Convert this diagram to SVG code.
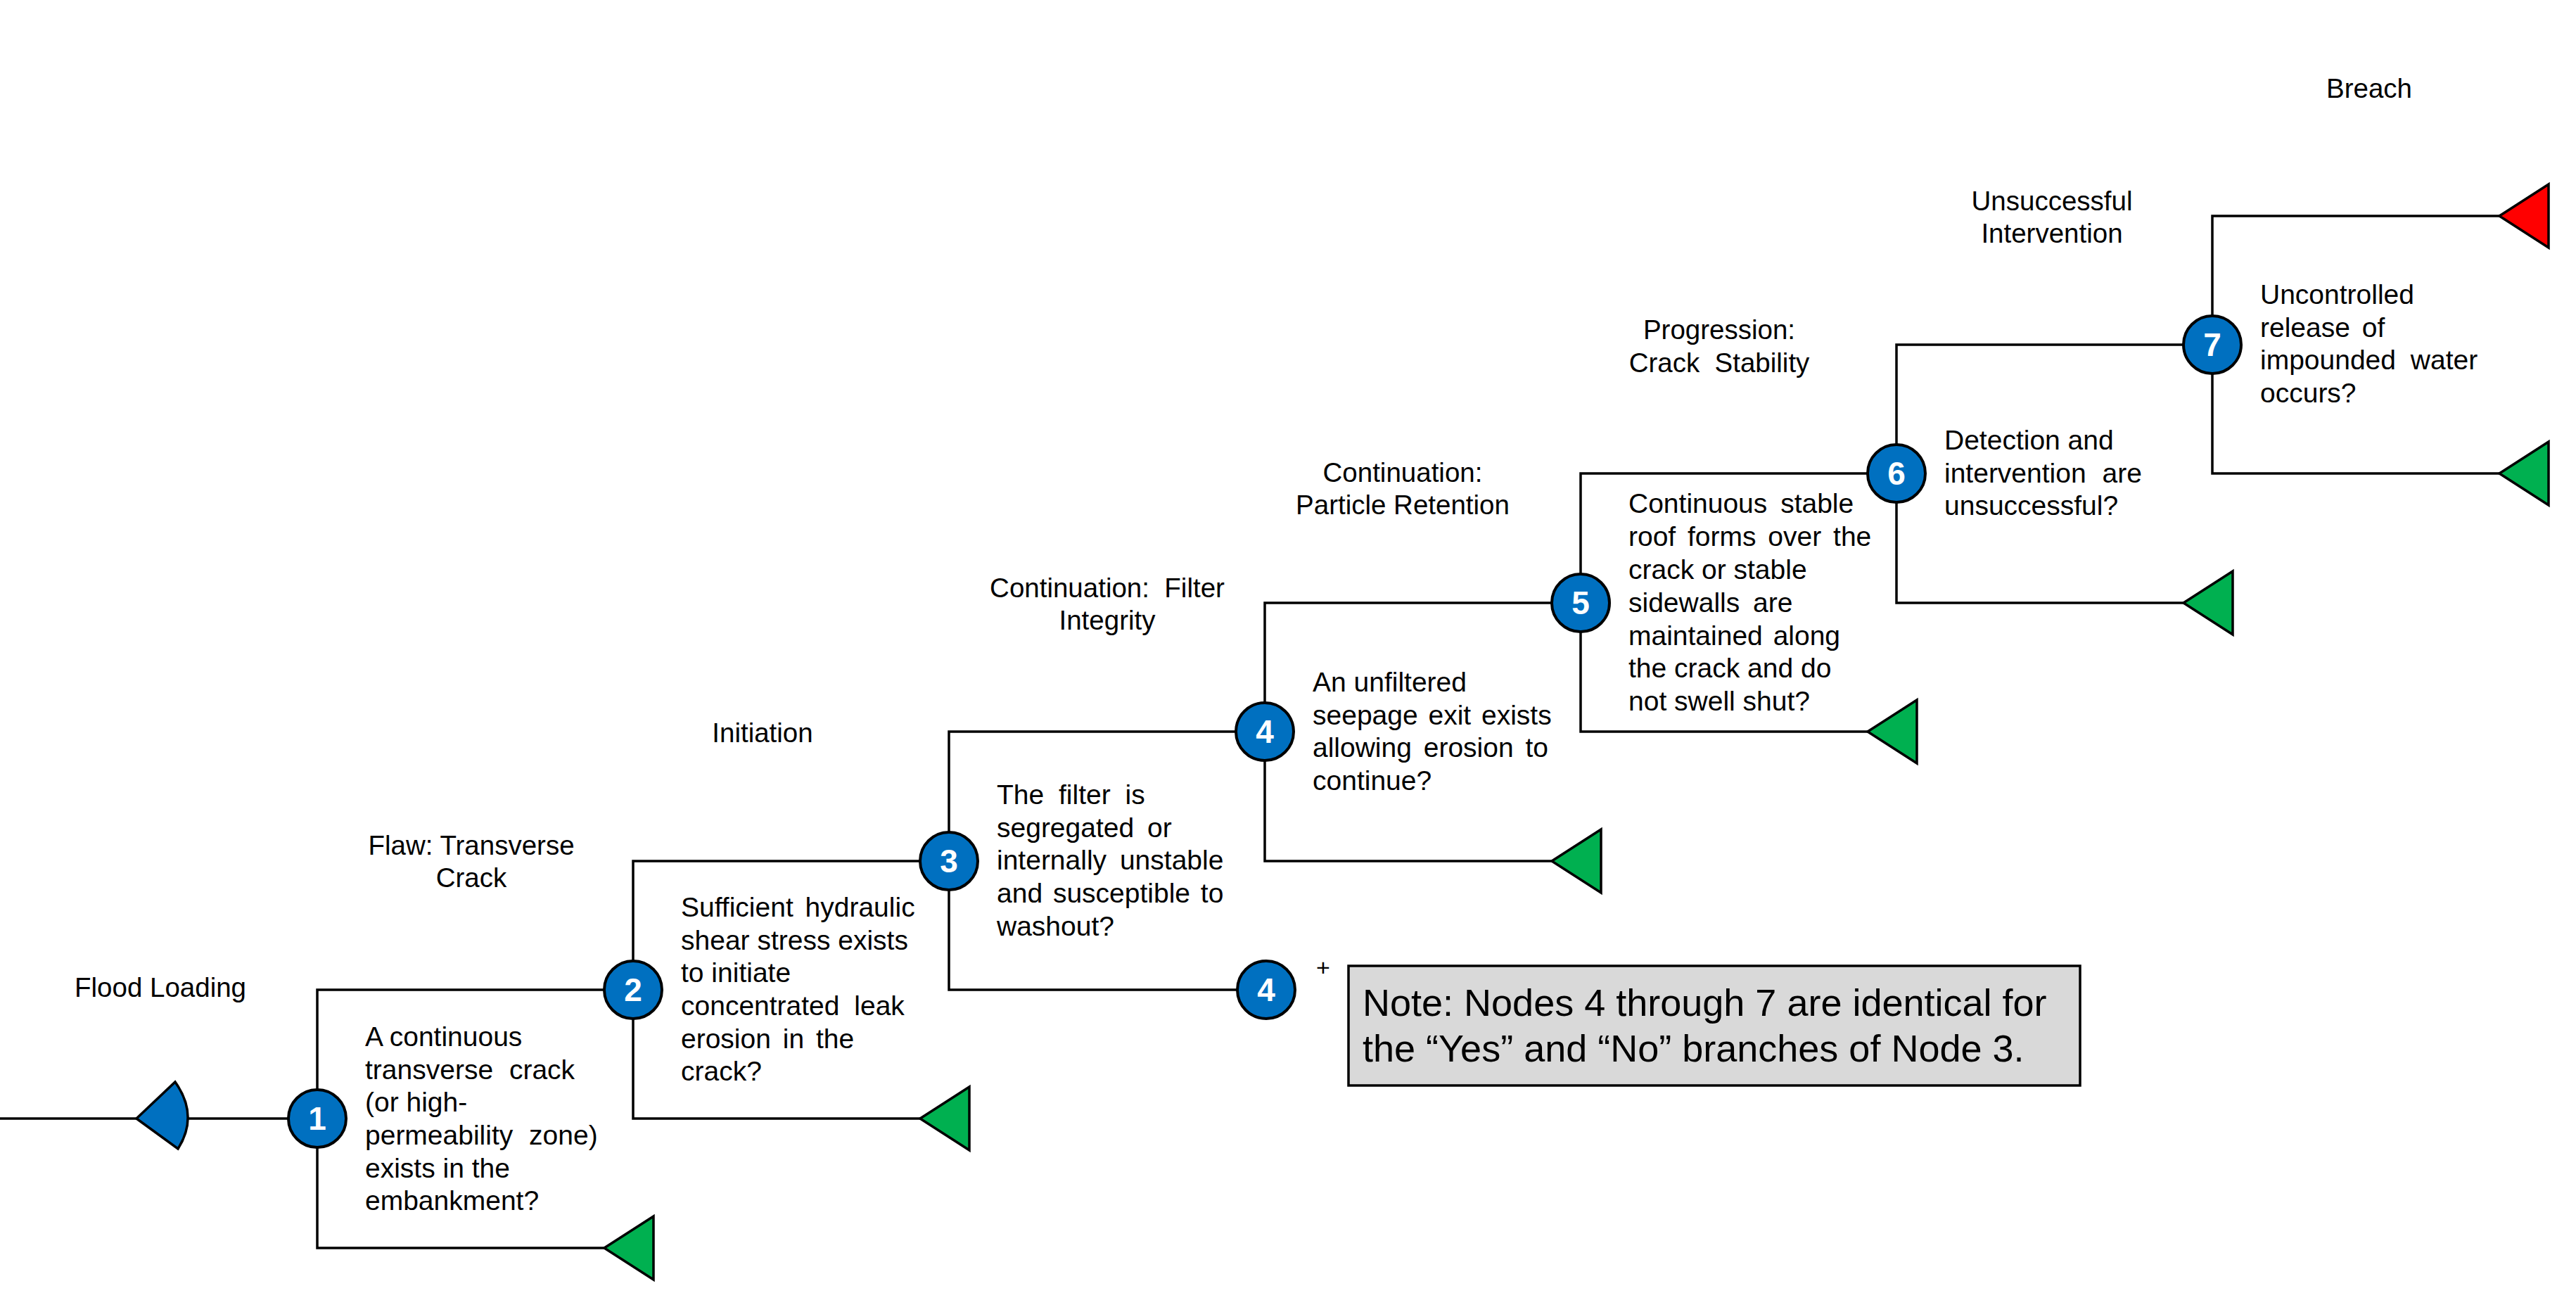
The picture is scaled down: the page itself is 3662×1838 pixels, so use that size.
<svg xmlns="http://www.w3.org/2000/svg" width="3662" height="1838" viewBox="0 0 3662 1838">
  <style>
    .ln { fill: none; stroke: #000; stroke-width: 3.5; }
    .nd { fill: #0070C0; stroke: #000; stroke-width: 4; }
    .num { font-family: "Liberation Sans", Arial, sans-serif; font-size: 46px; font-weight: bold; fill: #fff; text-anchor: middle; }
    .q { font-family: "Liberation Sans", Arial, sans-serif; font-size: 39px; fill: #000; }
    .hd { font-family: "Liberation Sans", Arial, sans-serif; font-size: 38.5px; fill: #000; text-anchor: middle; }
    .ok { fill: #00B050; stroke: #000; stroke-width: 3.5; }
    .bad { fill: #FF0000; stroke: #000; stroke-width: 3.5; }
    .start { fill: #0070C0; stroke: #000; stroke-width: 3.5; }
    .note { fill: #D9D9D9; stroke: #000; stroke-width: 3.5; }
    .notetxt { font-family: "Liberation Sans", Arial, sans-serif; font-size: 54px; fill: #000; }
  </style>
  <defs>
    <!-- terminal end-point triangle, tip at origin pointing left -->
    <path id="tri" d="M0,0 L70,-45 L70,45 Z"/>
  </defs>

  <rect width="3662" height="1838" fill="#fff"/>

  <!-- branch lines -->
  <g id="connectors">
    <!-- lead-in -->
    <path class="ln" d="M0,1590 H451"/>
    <!-- node 1 -->
    <path class="ln" d="M900,1407 H451 V1774 H859"/>
    <!-- node 2 -->
    <path class="ln" d="M1349,1224 H900 V1590 H1308"/>
    <!-- node 3 -->
    <path class="ln" d="M1798,1040 H1349 V1407 H1800"/>
    <!-- node 4 -->
    <path class="ln" d="M2247,857 H1798 V1224 H2206"/>
    <!-- node 5 -->
    <path class="ln" d="M2696,673 H2247 V1040 H2655"/>
    <!-- node 6 -->
    <path class="ln" d="M3145,490 H2696 V857 H3104"/>
    <!-- node 7 -->
    <path class="ln" d="M3553,307 H3145 V673 H3553"/>
  </g>

  <!-- initiating event marker -->
  <g id="start">
    <path class="start" d="M194,1590 L249,1538 Q283,1586 253,1633 Z"/>
  </g>

  <!-- end points -->
  <g id="end-n1"><use href="#tri" class="ok" x="859" y="1774"/></g>
  <g id="end-n2"><use href="#tri" class="ok" x="1308" y="1590"/></g>
  <g id="end-n4"><use href="#tri" class="ok" x="2206" y="1224"/></g>
  <g id="end-n5"><use href="#tri" class="ok" x="2655" y="1040"/></g>
  <g id="end-n6"><use href="#tri" class="ok" x="3104" y="857"/></g>
  <g id="end-n7-no"><use href="#tri" class="ok" x="3553" y="673"/></g>
  <g id="end-breach"><use href="#tri" class="bad" x="3553" y="307"/></g>

  <!-- event nodes -->
  <g id="node1">
    <circle class="nd" cx="451" cy="1590" r="41"/>
    <text class="num" x="451" y="1606">1</text>
    <text class="q" x="519" y="1487">A continuous</text>
    <text class="q" x="519" y="1534" word-spacing="12">transverse crack</text>
    <text class="q" x="519" y="1580">(or high-</text>
    <text class="q" x="519" y="1627" word-spacing="12">permeability zone)</text>
    <text class="q" x="519" y="1674">exists in the</text>
    <text class="q" x="519" y="1720">embankment?</text>
  </g>
  <g id="node2">
    <circle class="nd" cx="900" cy="1407" r="41"/>
    <text class="num" x="900" y="1423">2</text>
    <text class="q" x="968" y="1303" word-spacing="6">Sufficient hydraulic</text>
    <text class="q" x="968" y="1350">shear stress exists</text>
    <text class="q" x="968" y="1396">to initiate</text>
    <text class="q" x="968" y="1443" word-spacing="10">concentrated leak</text>
    <text class="q" x="968" y="1490" word-spacing="6">erosion in the</text>
    <text class="q" x="968" y="1536">crack?</text>
  </g>
  <g id="node3">
    <circle class="nd" cx="1349" cy="1224" r="41"/>
    <text class="num" x="1349" y="1240">3</text>
    <text class="q" x="1417" y="1143" word-spacing="10">The filter is</text>
    <text class="q" x="1417" y="1190" word-spacing="8">segregated or</text>
    <text class="q" x="1417" y="1236" word-spacing="8">internally unstable</text>
    <text class="q" x="1417" y="1283" word-spacing="4">and susceptible to</text>
    <text class="q" x="1417" y="1330">washout?</text>
  </g>
  <g id="node4">
    <circle class="nd" cx="1798" cy="1040" r="41"/>
    <text class="num" x="1798" y="1056">4</text>
    <text class="q" x="1866" y="983">An unfiltered</text>
    <text class="q" x="1866" y="1030" word-spacing="4">seepage exit exists</text>
    <text class="q" x="1866" y="1076" word-spacing="6">allowing erosion to</text>
    <text class="q" x="1866" y="1123">continue?</text>
  </g>
  <g id="node4-no">
    <circle class="nd" cx="1800" cy="1407" r="41"/>
    <text class="num" x="1800" y="1423">4</text>
  </g>
  <g id="node5">
    <circle class="nd" cx="2247" cy="857" r="41"/>
    <text class="num" x="2247" y="873">5</text>
    <text class="q" x="2315" y="729" word-spacing="8">Continuous stable</text>
    <text class="q" x="2315" y="776" word-spacing="6">roof forms over the</text>
    <text class="q" x="2315" y="823">crack or stable</text>
    <text class="q" x="2315" y="870" word-spacing="8">sidewalls are</text>
    <text class="q" x="2315" y="917" word-spacing="4">maintained along</text>
    <text class="q" x="2315" y="963">the crack and do</text>
    <text class="q" x="2315" y="1010">not swell shut?</text>
  </g>
  <g id="node6">
    <circle class="nd" cx="2696" cy="673" r="41"/>
    <text class="num" x="2696" y="689">6</text>
    <text class="q" x="2764" y="639">Detection and</text>
    <text class="q" x="2764" y="686" word-spacing="12">intervention are</text>
    <text class="q" x="2764" y="732">unsuccessful?</text>
  </g>
  <g id="node7">
    <circle class="nd" cx="3145" cy="490" r="41"/>
    <text class="num" x="3145" y="506">7</text>
    <text class="q" x="3213" y="432">Uncontrolled</text>
    <text class="q" x="3213" y="479" word-spacing="6">release of</text>
    <text class="q" x="3213" y="525" word-spacing="10">impounded water</text>
    <text class="q" x="3213" y="572">occurs?</text>
  </g>

  <!-- column headings -->
  <g id="headings">
    <text class="hd" x="228" y="1417">Flood Loading</text>
    <text class="hd" x="670" y="1215">Flaw: Transverse</text>
    <text class="hd" x="670" y="1261">Crack</text>
    <text class="hd" x="1084" y="1055">Initiation</text>
    <text class="hd" x="1574" y="849" xml:space="preserve">Continuation:  Filter</text>
    <text class="hd" x="1574" y="895">Integrity</text>
    <text class="hd" x="1994" y="685">Continuation:</text>
    <text class="hd" x="1994" y="731">Particle Retention</text>
    <text class="hd" x="2444" y="482">Progression:</text>
    <text class="hd" x="2444" y="529" xml:space="preserve">Crack  Stability</text>
    <text class="hd" x="2917" y="299">Unsuccessful</text>
    <text class="hd" x="2917" y="345">Intervention</text>
    <text class="hd" x="3368" y="139">Breach</text>
  </g>

  <!-- note -->
  <g id="note">
    <text x="1881" y="1387" font-family="Liberation Sans, Arial, sans-serif" font-size="34" text-anchor="middle">+</text>
    <rect class="note" x="1917" y="1373" width="1040" height="170"/>
    <text class="notetxt" x="1937" y="1444">Note: Nodes 4 through 7 are identical for</text>
    <text class="notetxt" x="1937" y="1509">the “Yes” and “No” branches of Node 3.</text>
  </g>
</svg>
